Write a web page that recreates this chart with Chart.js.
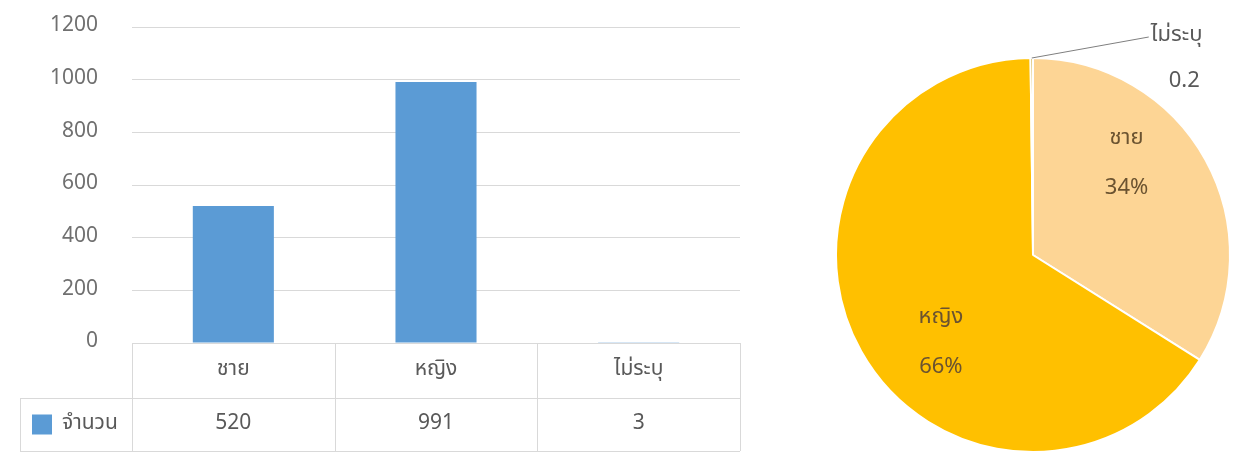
<!DOCTYPE html>
<html lang="th">
<head>
<meta charset="UTF-8">
<title>จำนวนตามเพศ</title>
<script src="https://cdn.jsdelivr.net/npm/chart.js"></script>
<style>
  html, body { margin: 0; padding: 0; background: #fff; }
  body { width: 1240px; height: 457px; position: relative; overflow: hidden; }
  #barWrap { position: absolute; left: 0; top: 0; width: 780px; height: 457px; }
  #pieWrap { position: absolute; left: 800px; top: 0; width: 440px; height: 457px; }
</style>
</head>
<body>
<div id="barWrap"><canvas id="barChart"></canvas></div>
<div id="pieWrap"><canvas id="pieChart"></canvas></div>
<script>
// data
const categories = ['ชาย', 'หญิง', 'ไม่ระบุ'];
const counts = [520, 991, 3];
const seriesName = 'จำนวน';
const yTicks = [0, 200, 400, 600, 800, 1000, 1200];
// pie shares (percent) and how each label is written
const pieShares = [34, 66, 0.2];
const pieSuffix = ['%', '%', ''];

const FONT = 'Tahoma, "Noto Sans Thai", "Noto Sans", "DejaVu Sans", sans-serif';
const GRID = '#d9d9d9';

// data table under the bar chart (header row = categories, second row = values)
const dataTable = {
  id: 'dataTable',
  afterDraw(chart) {
    const { ctx, chartArea, scales: { x } } = chart;
    const colW = x.getPixelForValue(1) - x.getPixelForValue(0);
    const top = chartArea.bottom;
    const mid = top + 55;
    const bot = top + 108;
    const legLeft = 20;
    ctx.save();
    ctx.strokeStyle = GRID;
    ctx.lineWidth = 1;
    ctx.beginPath();
    ctx.moveTo(chartArea.left, top + 0.5); ctx.lineTo(chartArea.right, top + 0.5);
    ctx.moveTo(legLeft, mid + 0.5); ctx.lineTo(chartArea.right, mid + 0.5);
    ctx.moveTo(legLeft, bot + 0.5); ctx.lineTo(chartArea.right, bot + 0.5);
    ctx.moveTo(legLeft + 0.5, mid); ctx.lineTo(legLeft + 0.5, bot);
    for (let i = 0; i <= categories.length; i++) {
      const cx = Math.round(x.getPixelForValue(i) - colW / 2) + 0.5;
      ctx.moveTo(cx, top); ctx.lineTo(cx, bot);
    }
    ctx.stroke();

    ctx.font = '21px ' + FONT;
    ctx.fillStyle = '#595959';
    ctx.textAlign = 'center';
    ctx.textBaseline = 'middle';
    const ds = chart.data.datasets[0];
    chart.data.labels.forEach((lab, i) => {
      const cx = x.getPixelForValue(i);
      ctx.fillText(lab, cx, (top + mid) / 2);
      ctx.fillText(String(ds.data[i]), cx, (mid + bot) / 2);
    });
    // legend key
    ctx.fillStyle = ds.backgroundColor;
    ctx.fillRect(legLeft + 12, (mid + bot) / 2 - 10, 20, 20);
    ctx.fillStyle = '#595959';
    ctx.textAlign = 'left';
    ctx.fillText(ds.label, legLeft + 42, (mid + bot) / 2);
    ctx.restore();
  }
};

new Chart(document.getElementById('barChart'), {
  type: 'bar',
  data: {
    labels: categories,
    datasets: [{
      label: seriesName,
      data: counts,
      backgroundColor: '#5B9BD5',
      barPercentage: 0.4,
      categoryPercentage: 1
    }]
  },
  options: {
    responsive: true,
    maintainAspectRatio: false,
    animation: false,
    layout: { padding: { top: 27, right: 40, bottom: 114, left: 0 } },
    plugins: { legend: { display: false }, tooltip: { enabled: false } },
    scales: {
      x: { display: false },
      y: {
        min: yTicks[0],
        max: yTicks[yTicks.length - 1],
        afterBuildTicks(scale) { scale.ticks = yTicks.map(v => ({ value: v })); },
        afterFit(scale) { scale.width = 132; },
        // invisible tick marks keep the labels clear of the plot
        grid: { color: GRID, drawTicks: true, tickLength: 34, tickColor: 'rgba(0,0,0,0)' },
        border: { display: false },
        ticks: {
          padding: 0,
          color: '#707070',
          font: { family: FONT, size: 21 },
          callback: v => String(v)
        }
      }
    }
  },
  plugins: [dataTable]
});

// labels on / beside the pie slices
const pieLabelsPlugin = {
  id: 'pieLabels',
  afterDatasetsDraw(chart, args, opts) {
    const { ctx } = chart;
    const meta = chart.getDatasetMeta(0);
    const vals = chart.data.datasets[0].data;
    ctx.save();
    ctx.font = '22px ' + FONT;
    ctx.textAlign = 'center';
    ctx.textBaseline = 'middle';
    meta.data.forEach((arc, i) => {
      const p = opts.place[i];
      const { x, y, outerRadius } = arc.getProps(['x', 'y', 'outerRadius'], true);
      const text = String(vals[i]) + pieSuffix[i];
      if (p.outside) {
        const a = (arc.startAngle + arc.endAngle) / 2;
        const ex = x + Math.cos(a) * outerRadius;
        const ey = y + Math.sin(a) * outerRadius;
        ctx.strokeStyle = '#7f7f7f';
        ctx.lineWidth = 1;
        ctx.beginPath();
        ctx.moveTo(ex, ey);
        ctx.lineTo(ex + p.dx, ey + p.dy);
        ctx.stroke();
        ctx.fillStyle = '#595959';
        ctx.textAlign = 'left';
        ctx.fillText(chart.data.labels[i], ex + p.dx + 2, ey + p.dy);
        ctx.fillText(text, ex + p.dx + 20, ey + p.dy + 46);
      } else {
        const a = (p.angle - 90) * Math.PI / 180;
        const r = outerRadius * p.r;
        const lx = x + Math.cos(a) * r;
        const ly = y + Math.sin(a) * r;
        ctx.fillStyle = '#6b5330';
        ctx.fillText(chart.data.labels[i], lx, ly - 25);
        ctx.fillText(text, lx, ly + 25);
      }
    });
    ctx.restore();
  }
};

new Chart(document.getElementById('pieChart'), {
  type: 'pie',
  data: {
    labels: categories,
    datasets: [{
      data: pieShares,
      backgroundColor: ['#FDD595', '#FFC000', '#BF9000'],
      borderColor: '#ffffff',
      borderWidth: 2
    }]
  },
  options: {
    responsive: true,
    maintainAspectRatio: false,
    animation: false,
    layout: { padding: { top: 57, right: 9, bottom: 4, left: 35 } },
    plugins: {
      legend: { display: false },
      tooltip: { enabled: false },
      pieLabels: {
        place: [
          { angle: 46, r: 0.66 },
          { angle: 226, r: 0.65 },
          { outside: true, dx: 117, dy: -21 }
        ]
      }
    }
  },
  plugins: [pieLabelsPlugin]
});
</script>
</body>
</html>
